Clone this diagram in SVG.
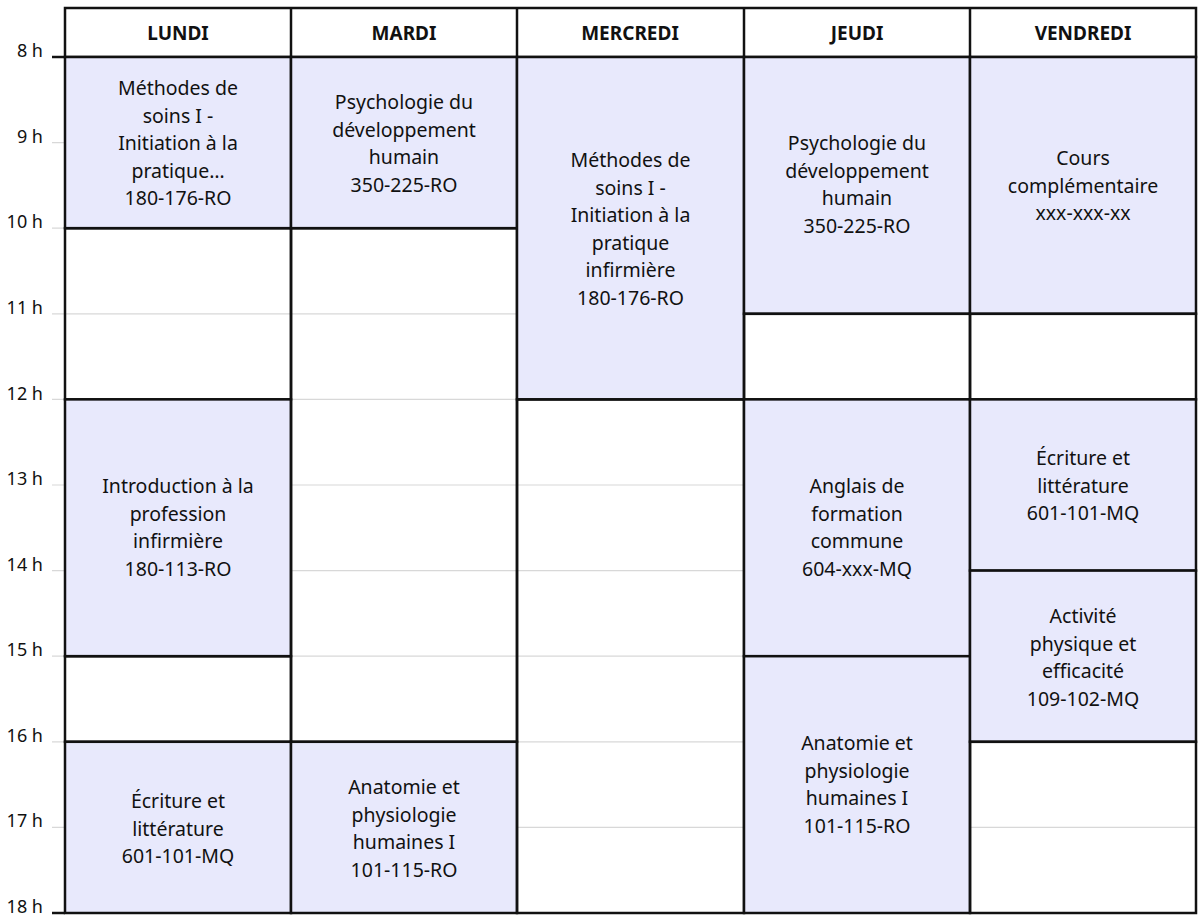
<svg xmlns="http://www.w3.org/2000/svg" width="1201" height="921" viewBox="0 0 1201 921">
<style>
.b{fill:#e8e9fc;stroke:#111;stroke-width:2.5}
.w{fill:none;stroke:#111;stroke-width:2.5}
.g{stroke:#d8d8d8;stroke-width:1.2}
text{font-family:"Noto Sans","DejaVu Sans",sans-serif;fill:#111}
.t{font-size:19.5px;text-anchor:middle}
.h{font-size:19px;font-weight:bold;text-anchor:middle}
.hr{font-size:18px;text-anchor:end}
</style>
<rect width="1201" height="921" fill="#fff"/>
<g id="hours">
<line class="g" x1="52" y1="142.6" x2="1196" y2="142.6"/>
<line class="g" x1="52" y1="228.2" x2="1196" y2="228.2"/>
<line class="g" x1="52" y1="313.8" x2="1196" y2="313.8"/>
<line class="g" x1="52" y1="399.4" x2="1196" y2="399.4"/>
<line class="g" x1="52" y1="485" x2="1196" y2="485"/>
<line class="g" x1="52" y1="570.6" x2="1196" y2="570.6"/>
<line class="g" x1="52" y1="656.2" x2="1196" y2="656.2"/>
<line class="g" x1="52" y1="741.8" x2="1196" y2="741.8"/>
<line class="g" x1="52" y1="827.4" x2="1196" y2="827.4"/>
<line x1="52" y1="57" x2="65" y2="57" stroke="#111" stroke-width="2.5"/>
<line x1="52" y1="913" x2="65" y2="913" stroke="#111" stroke-width="2.5"/>
<text class="hr" x="43" y="57">8 h</text>
<text class="hr" x="43" y="143">9 h</text>
<text class="hr" x="43" y="228">10 h</text>
<text class="hr" x="43" y="314">11 h</text>
<text class="hr" x="43" y="400">12 h</text>
<text class="hr" x="43" y="485">13 h</text>
<text class="hr" x="43" y="571">14 h</text>
<text class="hr" x="43" y="656">15 h</text>
<text class="hr" x="43" y="742">16 h</text>
<text class="hr" x="43" y="827">17 h</text>
<text class="hr" x="43" y="913">18 h</text>
</g>
<g id="header">
<rect class="w" x="65" y="8" width="1131" height="49"/>
<line class="w" x1="291" y1="8" x2="291" y2="57"/>
<line class="w" x1="517" y1="8" x2="517" y2="57"/>
<line class="w" x1="744" y1="8" x2="744" y2="57"/>
<line class="w" x1="970" y1="8" x2="970" y2="57"/>
<text class="h" x="178" y="40">LUNDI</text>
<text class="h" x="404" y="40">MARDI</text>
<text class="h" x="630" y="40">MERCREDI</text>
<text class="h" x="857" y="40">JEUDI</text>
<text class="h" x="1083" y="40">VENDREDI</text>
</g>
<g id="lundi">
<rect class="b" x="65" y="57" width="226" height="171.2"/>
<text class="t" x="178"><tspan x="178" y="95">Méthodes de</tspan><tspan x="178" y="122.5">soins I -</tspan><tspan x="178" y="150">Initiation à la</tspan><tspan x="178" y="177.5">pratique…</tspan><tspan x="178" y="205">180-176-RO</tspan></text>
<rect class="w" x="65" y="228.2" width="226" height="171.2"/>
<rect class="b" x="65" y="399.4" width="226" height="256.8"/>
<text class="t"><tspan x="178" y="493">Introduction à la</tspan><tspan x="178" y="520.5">profession</tspan><tspan x="178" y="548">infirmière</tspan><tspan x="178" y="575.5">180-113-RO</tspan></text>
<rect class="w" x="65" y="656.2" width="226" height="85.6"/>
<rect class="b" x="65" y="741.8" width="226" height="171.2"/>
<text class="t"><tspan x="178" y="808">Écriture et</tspan><tspan x="178" y="835.5">littérature</tspan><tspan x="178" y="863">601-101-MQ</tspan></text>
</g>
<g id="mardi">
<rect class="b" x="291" y="57" width="226" height="171.2"/>
<text class="t"><tspan x="404" y="109">Psychologie du</tspan><tspan x="404" y="136.5">développement</tspan><tspan x="404" y="164">humain</tspan><tspan x="404" y="191.5">350-225-RO</tspan></text>
<rect class="w" x="291" y="228.2" width="226" height="513.6"/>
<rect class="b" x="291" y="741.8" width="226" height="171.2"/>
<text class="t"><tspan x="404" y="794">Anatomie et</tspan><tspan x="404" y="821.5">physiologie</tspan><tspan x="404" y="849">humaines I</tspan><tspan x="404" y="876.5">101-115-RO</tspan></text>
</g>
<g id="mercredi">
<rect class="b" x="517" y="57" width="227" height="342.4"/>
<text class="t"><tspan x="630.5" y="167">Méthodes de</tspan><tspan x="630.5" y="194.5">soins I -</tspan><tspan x="630.5" y="222">Initiation à la</tspan><tspan x="630.5" y="249.5">pratique</tspan><tspan x="630.5" y="277">infirmière</tspan><tspan x="630.5" y="304.5">180-176-RO</tspan></text>
<rect class="w" x="517" y="399.4" width="227" height="513.6"/>
</g>
<g id="jeudi">
<rect class="b" x="744" y="57" width="226" height="256.8"/>
<text class="t"><tspan x="857" y="150">Psychologie du</tspan><tspan x="857" y="177.5">développement</tspan><tspan x="857" y="205">humain</tspan><tspan x="857" y="232.5">350-225-RO</tspan></text>
<rect class="w" x="744" y="313.8" width="226" height="85.6"/>
<rect class="b" x="744" y="399.4" width="226" height="256.8"/>
<text class="t"><tspan x="857" y="493">Anglais de</tspan><tspan x="857" y="520.5">formation</tspan><tspan x="857" y="548">commune</tspan><tspan x="857" y="575.5">604-xxx-MQ</tspan></text>
<rect class="b" x="744" y="656.2" width="226" height="256.8"/>
<text class="t"><tspan x="857" y="750">Anatomie et</tspan><tspan x="857" y="777.5">physiologie</tspan><tspan x="857" y="805">humaines I</tspan><tspan x="857" y="832.5">101-115-RO</tspan></text>
</g>
<g id="vendredi">
<rect class="b" x="970" y="57" width="226" height="256.8"/>
<text class="t"><tspan x="1083" y="165">Cours</tspan><tspan x="1083" y="192.5">complémentaire</tspan><tspan x="1083" y="220">xxx-xxx-xx</tspan></text>
<rect class="w" x="970" y="313.8" width="226" height="85.6"/>
<rect class="b" x="970" y="399.4" width="226" height="171.2"/>
<text class="t"><tspan x="1083" y="465">Écriture et</tspan><tspan x="1083" y="492.5">littérature</tspan><tspan x="1083" y="520">601-101-MQ</tspan></text>
<rect class="b" x="970" y="570.6" width="226" height="171.2"/>
<text class="t"><tspan x="1083" y="623">Activité</tspan><tspan x="1083" y="650.5">physique et</tspan><tspan x="1083" y="678">efficacité</tspan><tspan x="1083" y="705.5">109-102-MQ</tspan></text>
<rect class="w" x="970" y="741.8" width="226" height="171.2"/>
</g>
</svg>
